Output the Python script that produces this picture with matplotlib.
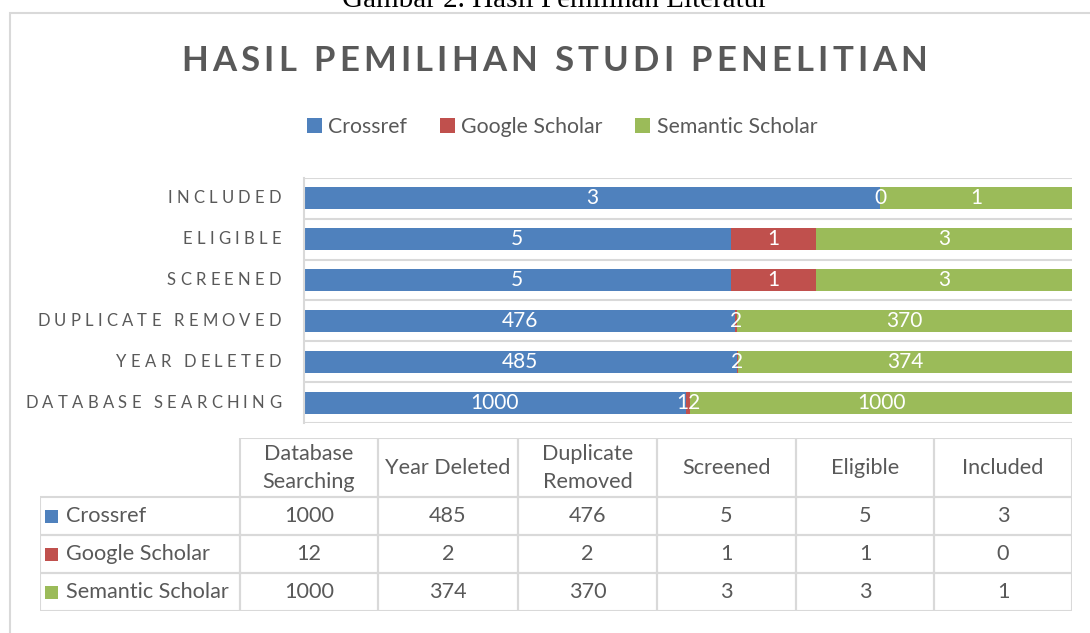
import matplotlib
matplotlib.use("Agg")
import matplotlib.pyplot as plt
from matplotlib.font_manager import FontProperties
from matplotlib.patches import Rectangle
import numpy as np

# data
stages = ["Database Searching", "Year Deleted", "Duplicate Removed",
          "Screened", "Eligible", "Included"]
header_lines = ["Database\nSearching", "Year Deleted", "Duplicate\nRemoved",
                "Screened", "Eligible", "Included"]
sources = ["Crossref", "Google Scholar", "Semantic Scholar"]
crossref = [1000, 485, 476, 5, 5, 3]
google = [12, 2, 2, 1, 1, 0]
semantic = [1000, 374, 370, 3, 3, 1]
colors = ["#4F81BD", "#C0504D", "#9BBB59"]

W, H = 1090, 633
TXT = "#595959"
FONT = "Lato"

fig = plt.figure(figsize=(W / 100, H / 100), dpi=100)
fig.patch.set_facecolor("white")


def fx(px):
    return px / W


def fy(py):
    return 1 - py / H


# chart frame (cut by the image border on the right and bottom)
fig.patches.append(Rectangle((fx(9.5), fy(700)), fx(1200), (700 - 12.5) / H,
                             transform=fig.transFigure, fill=False,
                             edgecolor="#D9D9D9", lw=1.5, zorder=0))

# caption of the document page, mostly cut off at the top
fig.text(fx(555), fy(7), "Gambar 2. Hasil Pemilihan Literatur",
         family="Liberation Serif", fontsize=21, ha="center", va="baseline",
         color="black")


def spaced(x, y, s, track, prop, color, ha="left"):
    """Draw letter-spaced text char by char (pixel coords, y from top)."""
    r = fig.canvas.get_renderer()

    def w(t):
        return r.get_text_width_height_descent(t, prop, ismath=False)[0]

    total = w(s) + track * (len(s) - 1)
    if ha == "right":
        x0 = x - total
    elif ha == "center":
        x0 = x - total / 2
    else:
        x0 = x
    for i, ch in enumerate(s):
        if ch == " ":
            continue
        xi = x0 + w(s[:i + 1]) - w(ch) + track * i
        fig.text(fx(xi), fy(y), ch, fontproperties=prop, ha="left",
                 va="center", color=color)


# title
spaced(554, 61, "HASIL PEMILIHAN STUDI PENELITIAN", 4.2,
       FontProperties(family=FONT, size=25, weight="bold"), TXT, ha="center")

# bars: 100% stacked
data = np.array([crossref, google, semantic], dtype=float)
share = data / data.sum(axis=0)

ax = fig.add_axes([fx(304), fy(423), fx(1072 - 304), (423 - 178) / H])
ypos = np.arange(len(stages))
left = np.zeros(len(stages))
handles = []
for k in range(len(sources)):
    b = ax.barh(ypos, share[k], left=left, height=0.54, color=colors[k],
                label=sources[k], zorder=2)
    handles.append(b)
    for i in range(len(stages)):
        ax.text(left[i] + share[k][i] / 2, ypos[i], f"{int(data[k][i])}",
                ha="center", va="center", color="white",
                family=FONT, fontsize=15, zorder=3)
    left += share[k]

ax.set_xlim(0, 1)
ax.set_ylim(-0.5, len(stages) - 0.5)
for yb in np.arange(-0.5, len(stages), 1.0):
    ax.axhline(yb, color="#D9D9D9", lw=1.5, zorder=1)
for side in ["top", "right", "bottom"]:
    ax.spines[side].set_visible(False)
ax.spines["left"].set_color("#D9D9D9")
ax.spines["left"].set_linewidth(1.5)
ax.set_xticks([])
ax.set_yticks([])

# letter-spaced category labels
cat_prop = FontProperties(family=FONT, size=12)
for i, name in enumerate(stages):
    ypx = H - ax.transData.transform((0, ypos[i]))[1]
    spaced(281, ypx, name.upper(), 4.25, cat_prop, TXT, ha="right")

# legend
fig.legend(handles, sources, ncol=3, loc="center",
           bbox_to_anchor=(fx(562), fy(127)), frameon=False,
           prop=FontProperties(family=FONT, size=15.3), labelcolor=TXT,
           handlelength=0.7, handleheight=0.7, handletextpad=0.3,
           columnspacing=1.55)

# data table
tax = fig.add_axes([fx(40), fy(611), fx(1072 - 40), (611 - 438) / H])
tax.set_xlim(40, 1072)
tax.set_ylim(611, 438)
tax.axis("off")
col_edges = [240, 378, 518, 657, 796, 934, 1072]
row_edges = [438, 497, 535, 573, 611]
grid_c = "#D9D9D9"
TFS = 15.6
# header cells
for j in range(len(stages)):
    tax.add_patch(Rectangle((col_edges[j], row_edges[0]),
                            col_edges[j + 1] - col_edges[j],
                            row_edges[1] - row_edges[0],
                            fill=False, edgecolor=grid_c, lw=1.5))
    tax.text((col_edges[j] + col_edges[j + 1]) / 2,
             (row_edges[0] + row_edges[1]) / 2 + 1, header_lines[j],
             ha="center", va="center", family=FONT, fontsize=TFS,
             color=TXT, linespacing=1.5)
# body cells
for r in range(len(sources)):
    y0, y1 = row_edges[r + 1], row_edges[r + 2]
    tax.add_patch(Rectangle((40, y0), col_edges[0] - 40, y1 - y0,
                            fill=False, edgecolor=grid_c, lw=1.5))
    tax.add_patch(Rectangle((45, (y0 + y1) / 2 - 6.5), 13, 13,
                            color=colors[r], lw=0))
    tax.text(66, (y0 + y1) / 2, sources[r], ha="left", va="center",
             family=FONT, fontsize=TFS, color=TXT)
    for j in range(len(stages)):
        tax.add_patch(Rectangle((col_edges[j], y0),
                                col_edges[j + 1] - col_edges[j], y1 - y0,
                                fill=False, edgecolor=grid_c, lw=1.5))
        tax.text((col_edges[j] + col_edges[j + 1]) / 2, (y0 + y1) / 2,
                 f"{data[r][j]:.0f}", ha="center", va="center",
                 family=FONT, fontsize=TFS, color=TXT)

fig.savefig("out.png", dpi=100)
